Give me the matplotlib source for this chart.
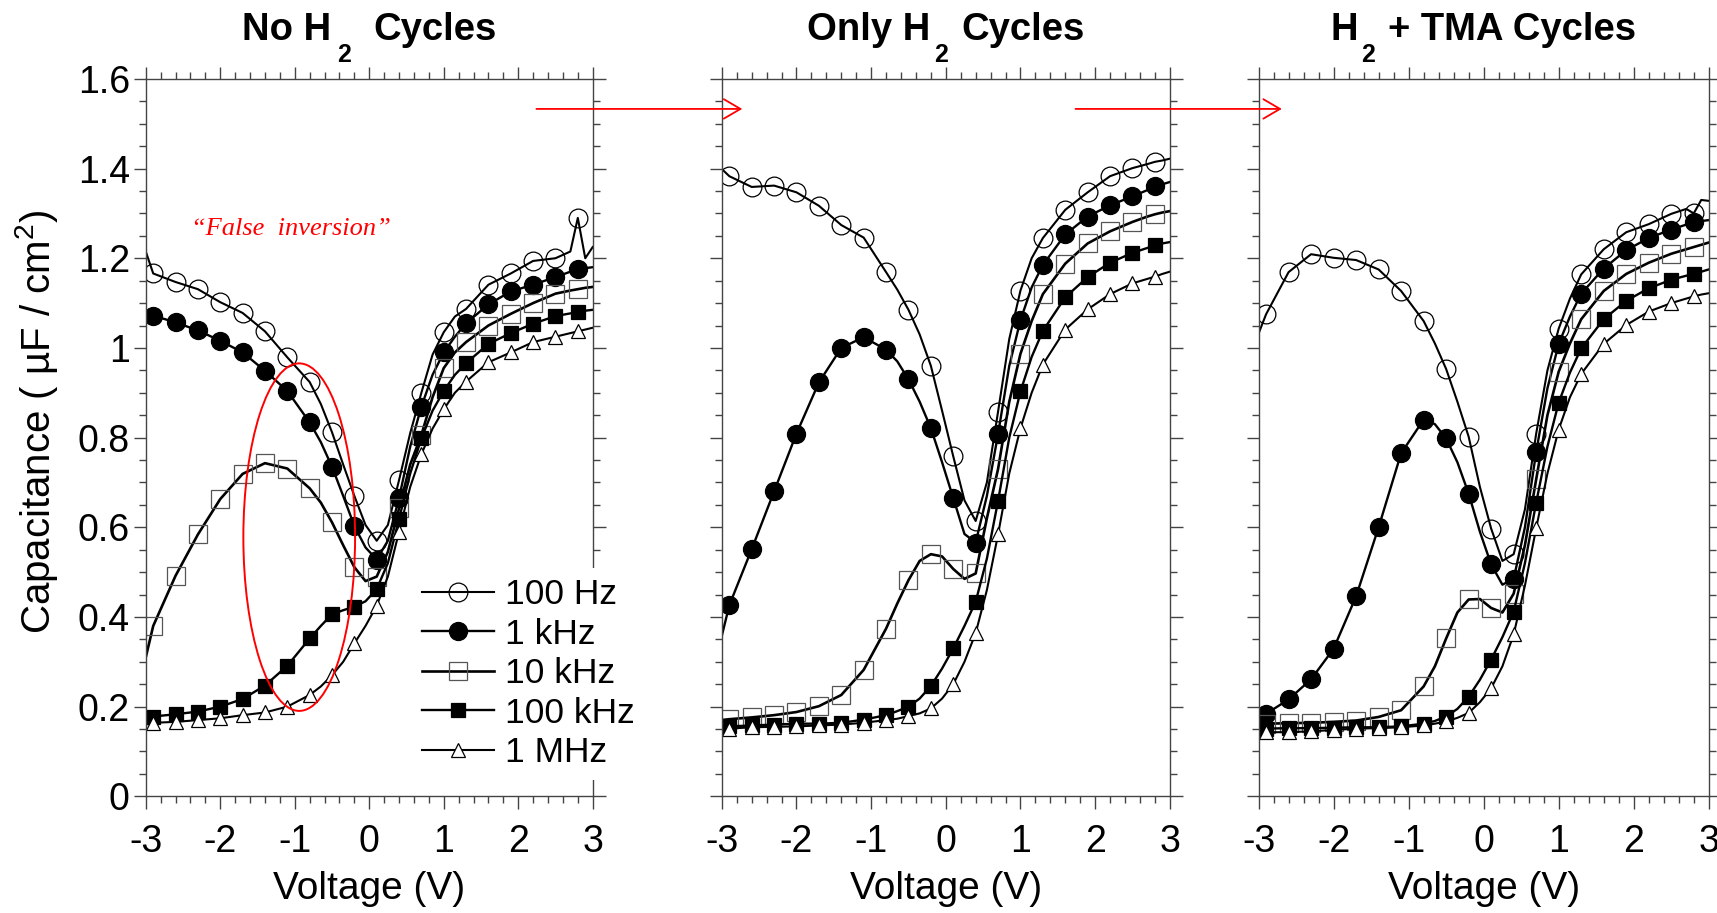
"""Three-panel C-V comparison: no H2, only H2, H2 + TMA cycles."""

import numpy as np
import matplotlib
matplotlib.use("Agg")
import matplotlib.pyplot as plt
from matplotlib.patches import ConnectionPatch, Ellipse
from matplotlib.ticker import FormatStrFormatter, MultipleLocator

# gate voltage grid shared by every curve (V)
VOLTAGE = [-3.0, -2.9, -2.6, -2.3, -2.0, -1.7, -1.4, -1.1, -0.8, -0.65, -0.5,
           -0.35, -0.2, -0.05, 0.1, 0.25, 0.4, 0.55, 0.7, 0.85, 1.0, 1.15,
           1.3, 1.6, 1.9, 2.2, 2.5, 2.7, 2.8, 2.9, 3.0]
# voltages that carry a symbol
MARKED_VOLTAGE = [-2.9, -2.6, -2.3, -2.0, -1.7, -1.4, -1.1, -0.8, -0.5, -0.2,
                  0.1, 0.4, 0.7, 1.0, 1.3, 1.6, 1.9, 2.2, 2.5, 2.8]

FREQUENCIES = ["100 Hz", "1 kHz", "10 kHz", "100 kHz", "1 MHz"]
# title split as: text before subscript, subscript, text after
TITLES = [("No H", "2", "Cycles"), ("Only H", "2", "Cycles"), ("H", "2", "+ TMA Cycles")]

# capacitance (uF/cm2), panel 1: no H2 cycles
NO_H2_100HZ = [1.215, 1.166, 1.147, 1.131, 1.102, 1.078, 1.037, 0.979, 0.924, 0.875, 0.812,
               0.740, 0.670, 0.605, 0.570, 0.605, 0.705, 0.810, 0.900, 0.985, 1.035, 1.070,
               1.087, 1.141, 1.166, 1.194, 1.200, 1.215, 1.290, 1.200, 1.225]
NO_H2_1KHZ = [1.078, 1.072, 1.057, 1.039, 1.016, 0.990, 0.949, 0.904, 0.834, 0.790, 0.735,
              0.670, 0.603, 0.555, 0.528, 0.570, 0.665, 0.780, 0.869, 0.940, 0.990, 1.025,
              1.055, 1.097, 1.126, 1.141, 1.158, 1.170, 1.175, 1.178, 1.180]
NO_H2_10KHZ = [0.310, 0.380, 0.492, 0.584, 0.663, 0.719, 0.743, 0.731, 0.687, 0.655, 0.611,
               0.560, 0.511, 0.480, 0.490, 0.545, 0.642, 0.740, 0.806, 0.890, 0.955, 0.990,
               1.013, 1.050, 1.076, 1.100, 1.121, 1.128, 1.131, 1.134, 1.136]
NO_H2_100KHZ = [0.175, 0.178, 0.183, 0.189, 0.200, 0.217, 0.247, 0.291, 0.352, 0.380, 0.406,
                0.415, 0.423, 0.435, 0.462, 0.520, 0.618, 0.720, 0.798, 0.860, 0.904, 0.940,
                0.966, 1.009, 1.033, 1.054, 1.071, 1.077, 1.080, 1.083, 1.085]
NO_H2_1MHZ = [0.160, 0.164, 0.166, 0.170, 0.174, 0.181, 0.187, 0.200, 0.226, 0.245, 0.270,
              0.300, 0.341, 0.380, 0.425, 0.490, 0.590, 0.690, 0.763, 0.820, 0.863, 0.900,
              0.925, 0.968, 0.990, 1.013, 1.025, 1.033, 1.037, 1.041, 1.045]

# panel 2: only H2 cycles
ONLY_H2_100HZ = [1.399, 1.383, 1.359, 1.362, 1.347, 1.317, 1.274, 1.246, 1.169, 1.130, 1.085,
                 1.030, 0.960, 0.860, 0.758, 0.660, 0.614, 0.700, 0.858, 1.020, 1.128, 1.200,
                 1.245, 1.308, 1.347, 1.383, 1.401, 1.410, 1.415, 1.418, 1.422]
ONLY_H2_1KHZ = [0.358, 0.426, 0.551, 0.680, 0.809, 0.923, 1.000, 1.024, 0.996, 0.970, 0.930,
                0.880, 0.821, 0.745, 0.665, 0.585, 0.566, 0.670, 0.808, 0.960, 1.062, 1.135,
                1.185, 1.253, 1.293, 1.318, 1.338, 1.352, 1.360, 1.365, 1.370]
ONLY_H2_10KHZ = [0.170, 0.172, 0.176, 0.181, 0.188, 0.201, 0.226, 0.282, 0.374, 0.430, 0.482,
                 0.525, 0.540, 0.535, 0.507, 0.485, 0.497, 0.620, 0.730, 0.880, 0.987, 1.060,
                 1.120, 1.188, 1.233, 1.260, 1.281, 1.293, 1.298, 1.302, 1.305]
ONLY_H2_100KHZ = [0.155, 0.156, 0.158, 0.160, 0.162, 0.162, 0.164, 0.171, 0.181, 0.190, 0.200,
                  0.218, 0.246, 0.285, 0.330, 0.380, 0.434, 0.530, 0.659, 0.800, 0.903, 0.980,
                  1.038, 1.113, 1.158, 1.190, 1.212, 1.223, 1.229, 1.233, 1.236]
ONLY_H2_1MHZ = [0.150, 0.151, 0.154, 0.155, 0.156, 0.158, 0.160, 0.164, 0.170, 0.173, 0.179,
                0.185, 0.196, 0.218, 0.250, 0.300, 0.364, 0.460, 0.584, 0.720, 0.821, 0.900,
                0.963, 1.041, 1.086, 1.120, 1.144, 1.154, 1.159, 1.165, 1.170]

# panel 3: H2 + TMA cycles
TMA_100HZ = [1.032, 1.075, 1.169, 1.209, 1.201, 1.196, 1.175, 1.127, 1.060, 1.010, 0.953,
             0.880, 0.802, 0.690, 0.597, 0.525, 0.540, 0.640, 0.809, 0.950, 1.043, 1.110,
             1.164, 1.220, 1.258, 1.276, 1.299, 1.310, 1.300, 1.330, 1.328]
TMA_1KHZ = [0.170, 0.184, 0.216, 0.261, 0.329, 0.446, 0.600, 0.765, 0.840, 0.830, 0.798,
            0.745, 0.675, 0.590, 0.517, 0.472, 0.485, 0.600, 0.768, 0.910, 1.009, 1.070,
            1.121, 1.177, 1.218, 1.245, 1.264, 1.275, 1.280, 1.283, 1.285]
TMA_10KHZ = [0.160, 0.162, 0.163, 0.164, 0.166, 0.169, 0.177, 0.192, 0.245, 0.290, 0.352,
             0.410, 0.439, 0.440, 0.420, 0.410, 0.452, 0.560, 0.707, 0.850, 0.947, 1.010,
             1.064, 1.127, 1.165, 1.190, 1.210, 1.220, 1.225, 1.230, 1.235]
TMA_100KHZ = [0.150, 0.151, 0.152, 0.152, 0.153, 0.154, 0.154, 0.156, 0.162, 0.168, 0.178,
              0.195, 0.222, 0.260, 0.305, 0.355, 0.412, 0.520, 0.655, 0.780, 0.878, 0.945,
              0.999, 1.064, 1.105, 1.133, 1.152, 1.161, 1.165, 1.170, 1.175]
TMA_1MHZ = [0.143, 0.143, 0.143, 0.145, 0.148, 0.151, 0.152, 0.154, 0.158, 0.162, 0.167,
            0.175, 0.186, 0.210, 0.241, 0.290, 0.361, 0.470, 0.598, 0.720, 0.818, 0.890,
            0.942, 1.009, 1.051, 1.081, 1.100, 1.110, 1.115, 1.119, 1.122]

PANELS = [
    [NO_H2_100HZ, NO_H2_1KHZ, NO_H2_10KHZ, NO_H2_100KHZ, NO_H2_1MHZ],
    [ONLY_H2_100HZ, ONLY_H2_1KHZ, ONLY_H2_10KHZ, ONLY_H2_100KHZ, ONLY_H2_1MHZ],
    [TMA_100HZ, TMA_1KHZ, TMA_10KHZ, TMA_100KHZ, TMA_1MHZ],
]

# marker, face colour, edge colour, marker size, line width
STYLES = [
    ("o", "none", "black", 13.5, 1.5),
    ("o", "black", "black", 13, 1.7),
    ("s", "none", "#555555", 12.5, 1.9),
    ("s", "black", "black", 10.5, 1.7),
    ("^", "white", "black", 10.5, 1.5),
]

AXES_RECTS = [
    [0.0849, 0.1278, 0.2603, 0.7858],
    [0.4204, 0.1278, 0.2609, 0.7858],
    [0.7330, 0.1278, 0.2622, 0.7858],
]
# pixel gaps around the subscript in each title
TITLE_GAPS = [(6, 22), (4, 13), (3, 13)]

SPINE = "#444444"


def style_axes(ax, show_ylabels):
    ax.set_xlim(-3, 3)
    ax.set_ylim(0, 1.6)
    ax.xaxis.set_major_locator(MultipleLocator(1))
    ax.xaxis.set_minor_locator(MultipleLocator(0.2))
    ax.yaxis.set_major_locator(MultipleLocator(0.2))
    ax.yaxis.set_minor_locator(MultipleLocator(0.05))
    ax.xaxis.set_major_formatter(FormatStrFormatter("%g"))
    ax.yaxis.set_major_formatter(FormatStrFormatter("%g"))
    ax.tick_params(which="both", direction="out", top=True, right=True,
                   width=1.0, color=SPINE)
    ax.tick_params(which="major", length=9)
    ax.tick_params(which="minor", length=5)
    ax.tick_params(axis="x", labelsize=27, pad=11)
    ax.tick_params(axis="y", labelsize=27, pad=2.5, labelleft=show_ylabels)
    for spine in ax.spines.values():
        spine.set_color(SPINE)
        spine.set_linewidth(1.0)
    ax.set_xlabel("Voltage (V)", fontsize=28)
    ax.xaxis.set_label_coords(0.5, -0.104)


def draw_title(fig, ax, parts, gaps):
    """Bold title with a low-set subscript, centred over the axes."""
    before, sub, after = parts
    renderer = fig.canvas.get_renderer()
    fig_w = fig.bbox.width
    texts = [
        fig.text(0, 0.9562, before, fontsize=27.5, fontweight="bold", va="baseline"),
        fig.text(0, 0.9324, sub, fontsize=18, fontweight="bold", va="baseline"),
        fig.text(0, 0.9562, after, fontsize=27.5, fontweight="bold", va="baseline"),
    ]
    widths = [t.get_window_extent(renderer).width for t in texts]
    total = sum(widths) + sum(gaps)
    box = ax.get_window_extent(renderer)
    x = (box.x0 + box.x1) / 2 - total / 2
    for t, w, gap in zip(texts, widths, list(gaps) + [0]):
        t.set_x(x / fig_w)
        x += w + gap


def main():
    plt.rcParams.update({
        "font.family": ["Liberation Sans", "DejaVu Sans"],
        "mathtext.fontset": "custom",
        "mathtext.rm": "Liberation Sans",
        "mathtext.it": "Liberation Sans:italic",
        "mathtext.bf": "Liberation Sans:bold",
        "axes.unicode_minus": False,
    })

    volt = np.array(VOLTAGE)
    mark_idx = list(np.where(np.isclose(volt[:, None], MARKED_VOLTAGE).any(axis=1))[0])

    fig = plt.figure(figsize=(17.17, 9.13), dpi=100)
    axes = []
    for p, (rect, series) in enumerate(zip(AXES_RECTS, PANELS)):
        ax = fig.add_axes(rect)
        for label, values, (marker, face, edge, size, lw) in zip(FREQUENCIES, series, STYLES):
            ax.plot(volt, values, color="black", linewidth=lw,
                    marker=marker, markersize=size, markerfacecolor=face,
                    markeredgecolor=edge, markeredgewidth=0.9,
                    markevery=mark_idx, label=label)
        style_axes(ax, show_ylabels=(p == 0))
        axes.append(ax)

    for ax, parts, gaps in zip(axes, TITLES, TITLE_GAPS):
        draw_title(fig, ax, parts, gaps)

    ax1, ax2, ax3 = axes
    ax1.text(-0.214, 0.5224, "Capacitance ( µF / cm$^2$)", transform=ax1.transAxes,
             rotation=90, rotation_mode="anchor", ha="center", va="baseline",
             fontsize=29)

    ax1.legend(loc="upper left", bbox_to_anchor=(0.594, 0.3185), fontsize=25.5,
               numpoints=1, handlelength=2.05, handletextpad=0.3,
               labelspacing=0.18, borderpad=0.3, borderaxespad=0,
               frameon=True, facecolor="white", edgecolor="none", framealpha=1)

    # red annotations
    ax1.add_patch(Ellipse((-0.94, 0.578), 1.5, 0.775, fill=False,
                          edgecolor="red", linewidth=1.4, zorder=6))
    ax1.text(-1.05, 1.266, "\u201cFalse  inversion\u201d", color="red",
             fontsize=19, fontstyle="italic", family="Liberation Serif",
             ha="center", va="center")
    for ax_from, ax_to, x_from, x_to in [(ax1, ax2, 2.244, -2.726),
                                         (ax2, ax3, 1.737, -2.69)]:
        arrow = ConnectionPatch(
            xyA=(x_from, 1.533), coordsA=ax_from.transData,
            xyB=(x_to, 1.533), coordsB=ax_to.transData,
            arrowstyle="->,head_length=1.2,head_width=0.7",
            mutation_scale=10, color="red", linewidth=1.3)
        fig.add_artist(arrow)

    fig.savefig("out.png", dpi=100)
    plt.close(fig)


if __name__ == "__main__":
    main()
